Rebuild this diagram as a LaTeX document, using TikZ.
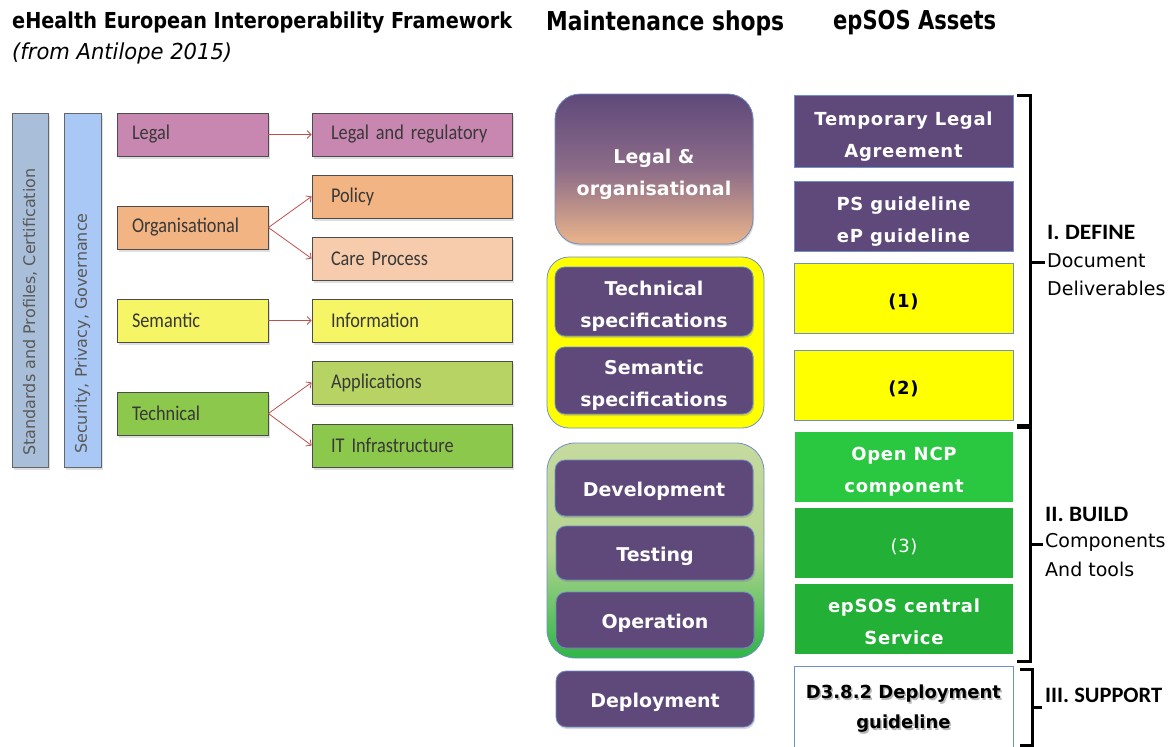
\documentclass[tikz,border=0pt]{standalone}
\usepackage{fontspec}
\setmainfont{DejaVu Sans}
\newfontfamily\calfont{Carlito}
\newfontfamily\calnarrow[FakeStretch=0.87,WordSpace=0.6]{Carlito}
\newfontfamily\spfont[LetterSpace=4]{DejaVu Sans}
\usetikzlibrary{arrows.meta,shadows}
\newcommand\lowt[2][3pt]{\raisebox{-#1}[\height][\depth]{\begin{tabular}{@{}c@{}}#2\end{tabular}}}
\newcommand\shadt[1]{\raisebox{-2pt}[\height][\depth]{\rlap{\hspace{1.5pt}\raisebox{-2pt}{\color{black!28}\begin{tabular}{@{}c@{}}#1\end{tabular}}}\begin{tabular}{@{}c@{}}#1\end{tabular}}}
\definecolor{purp}{HTML}{5F497A}
\definecolor{peach}{HTML}{EAB48A}
\definecolor{mauve}{HTML}{8C6C88}
\definecolor{bordB}{HTML}{6F8FC8}
\definecolor{legalC}{HTML}{C887B0}
\definecolor{policyC}{HTML}{F2B482}
\definecolor{careC}{HTML}{F6CCAD}
\definecolor{semC}{HTML}{F5F566}
\definecolor{appC}{HTML}{B7D363}
\definecolor{techC}{HTML}{8CC84B}
\definecolor{bar1C}{HTML}{A9BFD9}
\definecolor{bar2C}{HTML}{A9C8F5}
\definecolor{arrC}{HTML}{C0504D}
\definecolor{gTop}{HTML}{C6DA9E}
\definecolor{gMid}{HTML}{B4D490}
\definecolor{gBot}{HTML}{2DB646}
\definecolor{ncpC}{HTML}{2AC840}
\definecolor{dgC}{HTML}{22B136}
\definecolor{yel}{HTML}{FFFF00}
\tikzset{
  shad/.style={drop shadow={opacity=0.25,shadow xshift=2pt,shadow yshift=-3pt}},
  lbox/.style={draw=black!70, line width=0.8pt, minimum height=43pt, inner xsep=15pt, inner ysep=0pt,
    text width=121pt, align=left, text=black!78, font=\calnarrow\fontsize{21}{23}\selectfont, shad},
  rbox/.style={lbox, inner xsep=19pt, text width=162pt},
  bar/.style={draw=black!60, line width=0.8pt, minimum width=36pt, minimum height=354pt, inner sep=0pt, shad},
  bartext/.style={rotate=90, anchor=west, text=black!65, font=\fontsize{16}{18}\selectfont, inner sep=0pt},
  rarrow/.style={draw=arrC, line width=0.8pt, -{Straight Barb[length=4pt,width=8pt]}},
  mbox/.style={fill=purp, draw=bordB, line width=0.8pt, rounded corners=10pt, minimum width=198pt,
    text=white, align=center, font=\bfseries\fontsize{19}{32}\selectfont, inner sep=0pt,
    drop shadow={opacity=0.3,shadow xshift=1pt,shadow yshift=-2pt}},
  abox/.style={draw=bordB, line width=0.8pt, minimum width=219pt, minimum height=70pt, inner sep=0pt,
    align=center, font=\spfont\bfseries\fontsize{18}{32}\selectfont, text=white},
  brace/.style={line width=3pt, line join=miter, line cap=butt},
  title/.style={font=\bfseries\fontsize{22}{24}\selectfont, inner sep=0pt},
  bigtitle/.style={font=\bfseries\fontsize{26}{28}\selectfont, inner sep=0pt},
  side/.style={anchor=west, inner sep=0pt, font=\fontsize{19}{21}\selectfont},
  sideh/.style={anchor=west, inner sep=0pt, font=\calfont\bfseries\fontsize{22}{24}\selectfont},
}
\begin{document}
\begin{tikzpicture}[x=1pt,y=-1pt]
\useasboundingbox (0,0) rectangle (1173,747);
% titles
\node[title, anchor=west] (t1) at (12,23) {\resizebox{500pt}{\height}{eHealth European  Interoperability Framework}};
\node[anchor=west, inner sep=0pt, font=\itshape\fontsize{22}{24}\selectfont] (t1b) at (12,53) {\resizebox{220pt}{\height}{(from Antilope 2015)}};
\node[bigtitle, anchor=west] (t2) at (546,23) {\resizebox{238pt}{\height}{Maintenance shops}};
\node[bigtitle, anchor=west] (t3) at (833,23) {\resizebox{163pt}{\height}{epSOS Assets}};

% left framework
\node[bar, fill=bar1C] (b1) at (30,290) {};
\node[bar, fill=bar2C, minimum width=37pt] (b2) at (82.5,290) {};
\node[bartext] (b1t) at (30,456) {Standards  and Profiles, Certification};
\node[bartext] (b2t) at (82.5,454) {Security, Privacy, Governance};

\node[lbox, fill=legalC] (legal) at (192.5,134.5) {Legal};
\node[lbox, fill=policyC] (org) at (192.5,227.5) {Organisational};
\node[lbox, fill=semC] (sem) at (192.5,320.5) {Semantic};
\node[lbox, fill=techC] (tech) at (192.5,413.5) {Technical};

\node[rbox, fill=legalC] (legreg) at (412,134.5) {Legal and regulatory};
\node[rbox, fill=policyC] (policy) at (412,196.5) {Policy};
\node[rbox, fill=careC] (care) at (412,258.5) {Care Process};
\node[rbox, fill=semC] (info) at (412,320.5) {Information};
\node[rbox, fill=appC] (apps) at (412,382.5) {Applications};
\node[rbox, fill=techC] (itinf) at (412,445.5) {IT Infrastructure};

\draw[rarrow] (legal.east) -- (legreg.west);
\draw[rarrow] (org.east) -- (policy.west);
\draw[rarrow] (org.east) -- (care.west);
\draw[rarrow] (sem.east) -- (info.west);
\draw[rarrow] (tech.east) -- (apps.west);
\draw[rarrow] (tech.east) -- (itinf.west);

% middle column
\node[mbox, rounded corners=25pt, minimum height=150pt, top color=purp, bottom color=peach, middle color=mauve] (lo) at (654,169) {\lowt[4pt]{Legal \&\\organisational}};
\node[draw=bordB, line width=0.8pt, fill=yel, rounded corners=22pt, minimum width=217pt, minimum height=171pt, inner sep=0pt] (ycont) at (655.5,342.5) {};
\node[draw=bordB, line width=0.8pt, top color=gTop, bottom color=gBot, middle color=gMid, rounded corners=28pt, minimum width=217pt, minimum height=215pt, inner sep=0pt] (gcont) at (655.5,550.5) {};
\node[mbox, minimum height=69pt] (techspec) at (654,301.5) {\lowt[4pt]{Technical\\specifications}};
\node[mbox, minimum height=67pt] (semspec) at (654,380.5) {\lowt[4pt]{Semantic\\specifications}};
\node[mbox, minimum height=56pt] (dev) at (654,488) {\lowt[2pt]{Development}};
\node[mbox, minimum height=54pt] (test) at (655,553) {\lowt[2pt]{Testing}};
\node[mbox, minimum height=56pt] (oper) at (655,620) {\lowt[2pt]{Operation}};
\node[mbox, minimum height=56pt] (deploy) at (655,699) {\lowt[2pt]{Deployment}};

% right column
\node[abox, fill=purp, minimum height=72pt] (tla) at (903.5,131) {\lowt[4pt]{Temporary Legal\\Agreement}};
\node[abox, fill=purp] (psg) at (903.5,216) {\lowt[4pt]{PS guideline\\eP guideline}};
\node[abox, fill=yel, text=black] (a1) at (903.5,298) {\lowt[3pt]{(1)}};
\node[abox, fill=yel, text=black] (a2) at (903.5,385) {\lowt[3pt]{(2)}};
\node[abox, fill=ncpC, draw=none, minimum width=218pt] (ncp) at (904,467) {\lowt[3pt]{Open NCP\\component}};
\node[abox, fill=dgC, draw=none, minimum width=218pt, font=\spfont\fontsize{18}{32}\selectfont] (a3) at (904,543) {\lowt[3pt]{(3)}};
\node[abox, fill=dgC, draw=none, minimum width=218pt] (central) at (904,619) {\lowt[3pt]{epSOS central\\Service}};
\node[abox, fill=white, minimum height=81pt, text=black, font=\bfseries\fontsize{18}{30}\selectfont] (d382) at (903.5,706.5) {\shadt{D3.8.2 Deployment\\guideline}};

% braces
\draw[brace] (1017,95) -- (1030,95) -- (1030,425) -- (1017,425);
\draw[brace] (1030,262) -- (1045,262);
\draw[brace] (1017,427) -- (1030,427) -- (1030,661) -- (1017,661);
\draw[brace] (1030,544) -- (1043,544);
\draw[brace] (1020,669) -- (1032,669) -- (1032,745) -- (1020,745);
\draw[brace] (1032,707) -- (1042,707);

\node[sideh] (def) at (1047,232) {\resizebox{88pt}{\height}{I. DEFINE}};
\node[side] (doc) at (1047,261) {Document};
\node[side] (deli) at (1047,288) {Deliverables};
\node[sideh] (bld) at (1045,514) {\resizebox{83pt}{\height}{II. BUILD}};
\node[side] (comp) at (1045,542) {Components};
\node[side] (andt) at (1045,569) {And tools};
\node[sideh] (sup) at (1045,695) {\resizebox{117pt}{\height}{III. SUPPORT}};
\end{tikzpicture}
\end{document}
